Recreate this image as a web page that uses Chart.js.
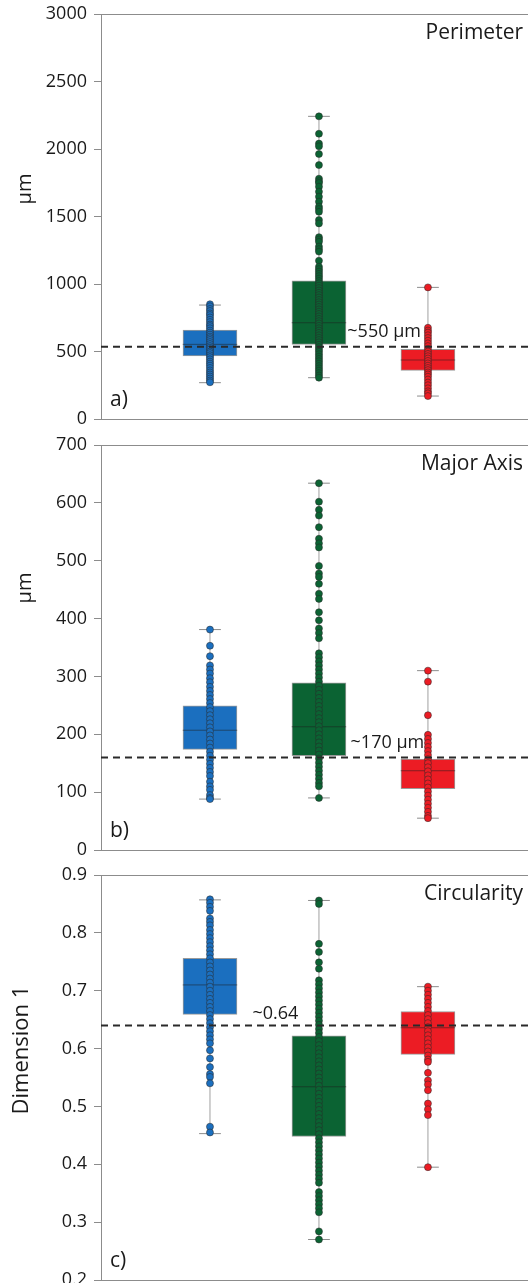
<!DOCTYPE html>
<html>
<head>
<meta charset="utf-8">
<script src="https://cdn.jsdelivr.net/npm/chart.js@4.4.1/dist/chart.umd.min.js"></script>
<style>
  html, body { margin: 0; padding: 0; background: #fff; overflow: hidden; }
  #wrap { position: relative; width: 528px; height: 1283px; overflow: hidden; }
  .panel { position: absolute; left: 0; width: 533px; height: 459px; }
</style>
</head>
<body>
<div id="wrap">
  <div class="panel" style="top:-16px"><canvas id="chartA"></canvas></div>
  <div class="panel" style="top:415px"><canvas id="chartB"></canvas></div>
  <div class="panel" style="top:845px"><canvas id="chartC"></canvas></div>
</div>
<script>
// group positions on the x axis and their colours
const groupX = [1, 2, 3];
const groupColors = ['#1b6fbf', '#0b6333', '#ec1c24'];

// Perimeter (µm) - [min, q1, median, q3, max] per group
const perimeterStats = [
  [269, 467, 553, 659, 844],
  [306, 553, 713, 1024, 2242],
  [170, 360, 437, 516, 975]
];
const perimeterBlue = [850, 835, 815, 800, 782, 770, 752, 735, 718, 700, 688, 672, 655, 640, 625, 610, 598, 585, 570, 555,
  540, 528, 515, 500, 488, 472, 458, 442, 425, 410, 395, 378, 360, 345, 330, 315, 300, 285, 272];
const perimeterGreen = [2242, 2113, 2040, 2020, 1963, 1881, 1780, 1762, 1748, 1721, 1684, 1647, 1610, 1573, 1555, 1535,
  1474, 1449, 1347, 1330, 1313, 1277, 1258, 1240, 1173, 1128, 1110, 1092, 1075, 1058, 1040, 1022, 1005, 988, 970, 952,
  935, 918, 900, 882, 865, 848, 830, 812, 795, 778, 760, 742, 725, 708, 690, 672, 655, 638, 620, 602, 585, 568, 550,
  532, 515, 498, 480, 462, 445, 428, 410, 392, 375, 358, 340, 322, 306];
const perimeterRed = [975, 676, 655, 640, 620, 600, 580, 560, 540, 520, 500, 482, 465, 448, 430, 412, 395, 378, 362,
  345, 330, 313, 292, 270, 250, 227, 205, 190, 170];
const perimeterRef = 535;

// Major axis (µm)
const majorStats = [
  [88, 174, 207, 249, 381],
  [90, 163, 213, 289, 634],
  [55, 106, 137, 157, 310]
];
const majorBlue = [381, 353, 335, 319, 312, 305, 297, 290, 282, 275, 268, 261, 254, 247, 240, 233, 226, 219, 212, 205,
  198, 191, 184, 177, 170, 163, 156, 149, 142, 135, 128, 118, 110, 104, 95, 90, 88];
const majorGreen = [634, 602, 588, 578, 558, 538, 530, 523, 491, 478, 472, 460, 443, 434, 411, 397, 383, 375, 366, 340,
  333, 326, 319, 312, 305, 298, 291, 284, 277, 270, 263, 256, 249, 242, 235, 228, 221, 214, 207, 200, 193, 186, 179,
  172, 165, 158, 151, 144, 137, 130, 123, 116, 110, 90];
const majorRed = [310, 291, 233, 199, 192, 185, 178, 171, 164, 157, 150, 143, 136, 129, 122, 115, 108, 101, 94, 87, 80,
  73, 66, 59, 55];
const majorRef = 160;

// Circularity (Dimension 1)
const circStats = [
  [0.453, 0.659, 0.710, 0.756, 0.857],
  [0.270, 0.448, 0.534, 0.622, 0.856],
  [0.395, 0.590, 0.636, 0.664, 0.707]
];
const circBlue = [0.858, 0.852, 0.845, 0.838, 0.825, 0.819, 0.813, 0.805, 0.798, 0.791, 0.784, 0.777, 0.770, 0.763,
  0.756, 0.749, 0.742, 0.735, 0.728, 0.721, 0.714, 0.707, 0.700, 0.693, 0.686, 0.679, 0.672, 0.665, 0.658, 0.651,
  0.644, 0.637, 0.630, 0.623, 0.616, 0.609, 0.597, 0.583, 0.568, 0.556, 0.551, 0.540, 0.465, 0.455];
const circGreen = [0.856, 0.850, 0.781, 0.767, 0.749, 0.738, 0.718, 0.711, 0.704, 0.697, 0.690, 0.683, 0.676, 0.669,
  0.662, 0.655, 0.648, 0.641, 0.634, 0.627, 0.620, 0.613, 0.606, 0.599, 0.592, 0.585, 0.578, 0.571, 0.564, 0.557,
  0.550, 0.543, 0.536, 0.529, 0.522, 0.515, 0.508, 0.501, 0.494, 0.487, 0.480, 0.473, 0.466, 0.459, 0.452, 0.445,
  0.438, 0.431, 0.424, 0.417, 0.410, 0.403, 0.396, 0.389, 0.382, 0.375, 0.368, 0.352, 0.345, 0.338, 0.331, 0.324,
  0.317, 0.284, 0.270];
const circRed = [0.707, 0.700, 0.693, 0.686, 0.679, 0.672, 0.665, 0.658, 0.651, 0.644, 0.637, 0.630, 0.623, 0.616,
  0.609, 0.602, 0.595, 0.588, 0.581, 0.577, 0.558, 0.545, 0.538, 0.528, 0.505, 0.495, 0.485, 0.395];
const circRef = 0.64;

const X_MAX = 3.92;
const FONT = '"Open Sans", "Noto Sans", sans-serif';

// titles, panel letters, reference labels and the y axis caption
const panelText = {
  id: 'panelText',
  afterDatasetsDraw(chart, args, opts) {
    const { ctx, chartArea: a, scales } = chart;
    const right = Math.min(a.right, 528);
    ctx.save();
    ctx.strokeStyle = '#8c8c8c';
    ctx.lineWidth = 1;
    ctx.beginPath();
    ctx.moveTo(a.left, a.top + 0.5);
    ctx.lineTo(chart.width, a.top + 0.5);
    ctx.stroke();

    ctx.fillStyle = '#1a1a1a';
    ctx.textBaseline = 'middle';
    ctx.font = '21px ' + FONT;
    ctx.textAlign = 'right';
    ctx.fillText(opts.title, right - 5, a.top + 19);
    ctx.textAlign = 'left';
    ctx.fillText(opts.letter, a.left + 9, a.bottom - 19);

    ctx.font = '18px ' + FONT;
    ctx.fillText(opts.refText, scales.x.getPixelForValue(opts.refX),
      scales.y.getPixelForValue(opts.refValue) - opts.refDy);

    ctx.translate(opts.axisX, a.top + opts.axisDy);
    ctx.rotate(-Math.PI / 2);
    ctx.textAlign = 'center';
    ctx.font = opts.axisSize + 'px ' + FONT;
    ctx.fillText(opts.axisTitle, 0, 0);
    ctx.restore();
  }
};

function buildDatasets(stats, dots, refValue) {
  const stems = [], caps = [], medians = [];
  stats.forEach((s, i) => {
    const x = groupX[i];
    stems.push({ x: x, y: s[0] }, { x: x, y: s[4] }, { x: x, y: null });
    caps.push({ x: x - 0.1, y: s[0] }, { x: x + 0.1, y: s[0] }, { x: x, y: null },
              { x: x - 0.1, y: s[4] }, { x: x + 0.1, y: s[4] }, { x: x, y: null });
    medians.push({ x: x - 0.25, y: s[2] }, { x: x + 0.25, y: s[2] }, { x: x, y: null });
  });

  const sets = [
    { type: 'line', data: stems, borderColor: '#a0a0a0', borderWidth: 1, pointRadius: 0, order: 5 },
    { type: 'line', data: caps, borderColor: '#8c8c8c', borderWidth: 1, pointRadius: 0, order: 5 },
    {
      type: 'bar',
      data: stats.map((s, i) => ({ x: groupX[i], y: [s[1], s[3]] })),
      backgroundColor: groupColors,
      borderColor: '#9a9a9a',
      borderWidth: 1,
      borderSkipped: false,
      barThickness: 54,
      order: 4
    },
    { type: 'line', data: medians, borderColor: 'rgba(30,30,30,0.5)', borderWidth: 1, pointRadius: 0, order: 3 }
  ];

  dots.forEach((vals, i) => {
    sets.push({
      type: 'scatter',
      data: vals.map(v => ({ x: groupX[i], y: v })),
      pointRadius: 3.5,
      pointBackgroundColor: groupColors[i],
      pointBorderColor: 'rgba(40,40,40,0.65)',
      pointBorderWidth: 0.8,
      order: 1
    });
  });

  sets.push({
    type: 'line',
    data: [{ x: 0, y: refValue }, { x: X_MAX, y: refValue }],
    borderColor: '#2a2a2a',
    borderWidth: 2,
    borderDash: [7, 5],
    pointRadius: 0,
    order: 0
  });
  return sets;
}

function createPanel(canvasId, stats, dots, refValue, yMin, yMax, step, text) {
  const el = document.getElementById(canvasId);
  return new Chart(el, {
    type: 'scatter',
    data: { datasets: buildDatasets(stats, dots, refValue) },
    options: {
      responsive: true,
      maintainAspectRatio: false,
      animation: false,
      layout: { padding: { top: 30, left: 0, right: 0, bottom: 0 } },
      plugins: {
        legend: { display: false },
        tooltip: { enabled: false },
        panelText: Object.assign({ refValue: refValue }, text)
      },
      scales: {
        x: {
          type: 'linear', min: 0, max: X_MAX, offset: false,
          ticks: { display: false },
          grid: { display: false, offset: false },
          border: { color: '#8c8c8c' },
          afterFit: s => { s.height = 24; }
        },
        y: {
          min: yMin, max: yMax,
          ticks: {
            stepSize: step, color: '#1a1a1a', padding: 7,
            font: { family: FONT, size: 18 },
            callback: v => String(Math.round(v * 10) / 10)
          },
          grid: { drawOnChartArea: false, tickLength: 7, color: '#8c8c8c' },
          border: { color: '#8c8c8c' },
          afterFit: s => { s.width = 101; }
        }
      }
    },
    plugins: [panelText]
  });
}

createPanel('chartA', perimeterStats, [perimeterBlue, perimeterGreen, perimeterRed], perimeterRef, 0, 3000, 500, {
  title: 'Perimeter', letter: 'a)', refText: '~550 µm', refX: 2.26, refDy: 15,
  axisTitle: 'µm', axisX: 25, axisDy: 175, axisSize: 20
});
createPanel('chartB', majorStats, [majorBlue, majorGreen, majorRed], majorRef, 0, 700, 100, {
  title: 'Major Axis', letter: 'b)', refText: '~170 µm', refX: 2.29, refDy: 15,
  axisTitle: 'µm', axisX: 25, axisDy: 143, axisSize: 20
});
createPanel('chartC', circStats, [circBlue, circGreen, circRed], circRef, 0.2, 0.9, 0.1, {
  title: 'Circularity', letter: 'c)', refText: '~0.64', refX: 1.39, refDy: 12,
  axisTitle: 'Dimension 1', axisX: 22, axisDy: 175, axisSize: 22
});
</script>
</body>
</html>
